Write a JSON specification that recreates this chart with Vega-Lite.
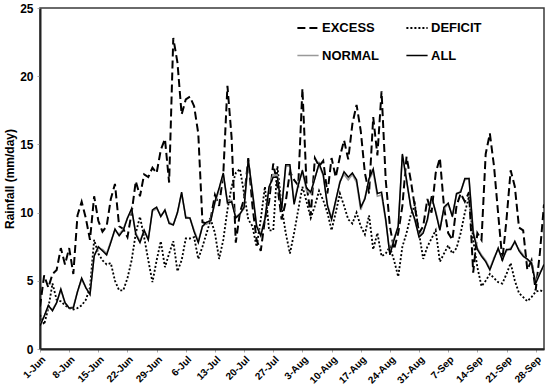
{
  "$schema": "https://vega.github.io/schema/vega-lite/v6.json",
  "width": 504,
  "height": 341,
  "autosize": {"type": "none"},
  "padding": {"left": 40, "top": 8, "right": 6, "bottom": 40},
  "background": "white",
  "config": {
    "font": "Liberation Sans",
    "view": {"stroke": "#3a3a3a", "strokeWidth": 1.5}
  },
  "data": {
    "values": [
      {"date":"2020-06-01","EXCESS":3.1,"DEFICIT":2.5,"NORMAL":1.8,"ALL":1.7},
      {"date":"2020-06-02","EXCESS":5.4,"DEFICIT":1.8,"NORMAL":2.4,"ALL":2.4},
      {"date":"2020-06-03","EXCESS":4.5,"DEFICIT":3.0,"NORMAL":3.1,"ALL":3.2},
      {"date":"2020-06-04","EXCESS":5.5,"DEFICIT":4.8,"NORMAL":2.9,"ALL":2.8},
      {"date":"2020-06-05","EXCESS":5.8,"DEFICIT":3.6,"NORMAL":3.4,"ALL":3.4},
      {"date":"2020-06-06","EXCESS":7.4,"DEFICIT":3.5,"NORMAL":4.3,"ALL":4.4},
      {"date":"2020-06-07","EXCESS":6.2,"DEFICIT":3.2,"NORMAL":3.4,"ALL":3.4},
      {"date":"2020-06-08","EXCESS":7.4,"DEFICIT":3.0,"NORMAL":3.0,"ALL":3.0},
      {"date":"2020-06-09","EXCESS":5.5,"DEFICIT":2.9,"NORMAL":3.1,"ALL":3.0},
      {"date":"2020-06-10","EXCESS":9.8,"DEFICIT":3.0,"NORMAL":4.2,"ALL":4.2},
      {"date":"2020-06-11","EXCESS":10.8,"DEFICIT":3.2,"NORMAL":5.1,"ALL":5.2},
      {"date":"2020-06-12","EXCESS":9.6,"DEFICIT":3.6,"NORMAL":4.5,"ALL":4.5},
      {"date":"2020-06-13","EXCESS":8.0,"DEFICIT":4.5,"NORMAL":4.0,"ALL":4.0},
      {"date":"2020-06-14","EXCESS":11.2,"DEFICIT":8.0,"NORMAL":6.9,"ALL":6.8},
      {"date":"2020-06-15","EXCESS":9.4,"DEFICIT":7.0,"NORMAL":7.4,"ALL":7.5},
      {"date":"2020-06-16","EXCESS":8.6,"DEFICIT":6.5,"NORMAL":7.3,"ALL":7.2},
      {"date":"2020-06-17","EXCESS":9.0,"DEFICIT":6.2,"NORMAL":7.0,"ALL":6.9},
      {"date":"2020-06-18","EXCESS":11.0,"DEFICIT":6.3,"NORMAL":7.9,"ALL":7.8},
      {"date":"2020-06-19","EXCESS":12.1,"DEFICIT":5.0,"NORMAL":8.7,"ALL":8.8},
      {"date":"2020-06-20","EXCESS":9.0,"DEFICIT":4.3,"NORMAL":8.4,"ALL":8.3},
      {"date":"2020-06-21","EXCESS":8.8,"DEFICIT":4.3,"NORMAL":8.8,"ALL":8.7},
      {"date":"2020-06-22","EXCESS":8.2,"DEFICIT":5.2,"NORMAL":9.6,"ALL":9.6},
      {"date":"2020-06-23","EXCESS":10.0,"DEFICIT":6.5,"NORMAL":10.2,"ALL":10.3},
      {"date":"2020-06-24","EXCESS":12.3,"DEFICIT":8.5,"NORMAL":8.5,"ALL":8.4},
      {"date":"2020-06-25","EXCESS":11.2,"DEFICIT":9.7,"NORMAL":7.9,"ALL":7.8},
      {"date":"2020-06-26","EXCESS":12.8,"DEFICIT":8.2,"NORMAL":8.7,"ALL":8.7},
      {"date":"2020-06-27","EXCESS":12.6,"DEFICIT":6.5,"NORMAL":8.1,"ALL":8.0},
      {"date":"2020-06-28","EXCESS":13.3,"DEFICIT":4.9,"NORMAL":10.1,"ALL":10.2},
      {"date":"2020-06-29","EXCESS":12.9,"DEFICIT":6.5,"NORMAL":10.3,"ALL":10.4},
      {"date":"2020-06-30","EXCESS":14.6,"DEFICIT":7.9,"NORMAL":9.8,"ALL":9.7},
      {"date":"2020-07-01","EXCESS":15.4,"DEFICIT":6.0,"NORMAL":10.1,"ALL":10.2},
      {"date":"2020-07-02","EXCESS":12.2,"DEFICIT":7.0,"NORMAL":9.3,"ALL":9.2},
      {"date":"2020-07-03","EXCESS":22.8,"DEFICIT":7.9,"NORMAL":9.1,"ALL":9.1},
      {"date":"2020-07-04","EXCESS":21.0,"DEFICIT":5.7,"NORMAL":10.0,"ALL":10.0},
      {"date":"2020-07-05","EXCESS":17.2,"DEFICIT":6.5,"NORMAL":11.4,"ALL":11.5},
      {"date":"2020-07-06","EXCESS":18.3,"DEFICIT":8.1,"NORMAL":9.7,"ALL":9.6},
      {"date":"2020-07-07","EXCESS":18.5,"DEFICIT":8.1,"NORMAL":9.6,"ALL":9.6},
      {"date":"2020-07-08","EXCESS":17.8,"DEFICIT":8.2,"NORMAL":8.7,"ALL":8.6},
      {"date":"2020-07-09","EXCESS":15.8,"DEFICIT":6.6,"NORMAL":7.9,"ALL":7.8},
      {"date":"2020-07-10","EXCESS":9.3,"DEFICIT":7.5,"NORMAL":9.0,"ALL":9.0},
      {"date":"2020-07-11","EXCESS":9.2,"DEFICIT":8.5,"NORMAL":9.2,"ALL":9.3},
      {"date":"2020-07-12","EXCESS":9.6,"DEFICIT":9.5,"NORMAL":9.5,"ALL":9.4},
      {"date":"2020-07-13","EXCESS":11.3,"DEFICIT":8.5,"NORMAL":10.7,"ALL":10.8},
      {"date":"2020-07-14","EXCESS":10.5,"DEFICIT":6.6,"NORMAL":11.7,"ALL":11.8},
      {"date":"2020-07-15","EXCESS":12.8,"DEFICIT":8.0,"NORMAL":12.8,"ALL":12.9},
      {"date":"2020-07-16","EXCESS":19.3,"DEFICIT":10.2,"NORMAL":10.8,"ALL":10.7},
      {"date":"2020-07-17","EXCESS":15.5,"DEFICIT":11.9,"NORMAL":10.9,"ALL":10.8},
      {"date":"2020-07-18","EXCESS":7.8,"DEFICIT":12.9,"NORMAL":9.7,"ALL":9.6},
      {"date":"2020-07-19","EXCESS":10.0,"DEFICIT":13.2,"NORMAL":9.9,"ALL":9.9},
      {"date":"2020-07-20","EXCESS":11.0,"DEFICIT":11.4,"NORMAL":10.3,"ALL":10.4},
      {"date":"2020-07-21","EXCESS":14.0,"DEFICIT":9.5,"NORMAL":13.8,"ALL":13.9},
      {"date":"2020-07-22","EXCESS":10.5,"DEFICIT":9.0,"NORMAL":11.6,"ALL":11.5},
      {"date":"2020-07-23","EXCESS":8.0,"DEFICIT":7.5,"NORMAL":9.1,"ALL":9.0},
      {"date":"2020-07-24","EXCESS":7.2,"DEFICIT":9.5,"NORMAL":8.4,"ALL":8.3},
      {"date":"2020-07-25","EXCESS":9.5,"DEFICIT":11.9,"NORMAL":9.6,"ALL":9.5},
      {"date":"2020-07-26","EXCESS":10.8,"DEFICIT":8.7,"NORMAL":11.8,"ALL":11.9},
      {"date":"2020-07-27","EXCESS":13.6,"DEFICIT":8.7,"NORMAL":12.8,"ALL":12.6},
      {"date":"2020-07-28","EXCESS":12.0,"DEFICIT":13.4,"NORMAL":12.7,"ALL":12.6},
      {"date":"2020-07-29","EXCESS":9.5,"DEFICIT":10.4,"NORMAL":10.3,"ALL":10.2},
      {"date":"2020-07-30","EXCESS":10.8,"DEFICIT":8.5,"NORMAL":13.4,"ALL":13.5},
      {"date":"2020-07-31","EXCESS":13.0,"DEFICIT":7.0,"NORMAL":13.4,"ALL":13.5},
      {"date":"2020-08-01","EXCESS":12.4,"DEFICIT":8.5,"NORMAL":10.8,"ALL":10.6},
      {"date":"2020-08-02","EXCESS":12.0,"DEFICIT":10.2,"NORMAL":12.1,"ALL":12.0},
      {"date":"2020-08-03","EXCESS":19.1,"DEFICIT":11.9,"NORMAL":13.0,"ALL":13.1},
      {"date":"2020-08-04","EXCESS":12.0,"DEFICIT":10.8,"NORMAL":11.6,"ALL":11.8},
      {"date":"2020-08-05","EXCESS":9.8,"DEFICIT":9.6,"NORMAL":11.4,"ALL":11.5},
      {"date":"2020-08-06","EXCESS":14.0,"DEFICIT":10.5,"NORMAL":12.6,"ALL":12.5},
      {"date":"2020-08-07","EXCESS":13.4,"DEFICIT":11.6,"NORMAL":13.5,"ALL":13.6},
      {"date":"2020-08-08","EXCESS":13.8,"DEFICIT":10.9,"NORMAL":12.7,"ALL":12.8},
      {"date":"2020-08-09","EXCESS":11.4,"DEFICIT":10.0,"NORMAL":10.6,"ALL":10.5},
      {"date":"2020-08-10","EXCESS":14.0,"DEFICIT":8.7,"NORMAL":9.6,"ALL":9.5},
      {"date":"2020-08-11","EXCESS":12.6,"DEFICIT":10.0,"NORMAL":10.8,"ALL":10.9},
      {"date":"2020-08-12","EXCESS":14.1,"DEFICIT":11.4,"NORMAL":12.3,"ALL":12.2},
      {"date":"2020-08-13","EXCESS":15.3,"DEFICIT":10.5,"NORMAL":12.8,"ALL":13.0},
      {"date":"2020-08-14","EXCESS":13.9,"DEFICIT":9.5,"NORMAL":12.4,"ALL":12.6},
      {"date":"2020-08-15","EXCESS":16.5,"DEFICIT":9.2,"NORMAL":12.8,"ALL":12.9},
      {"date":"2020-08-16","EXCESS":17.9,"DEFICIT":10.0,"NORMAL":12.2,"ALL":12.4},
      {"date":"2020-08-17","EXCESS":16.0,"DEFICIT":9.0,"NORMAL":10.2,"ALL":10.4},
      {"date":"2020-08-18","EXCESS":12.9,"DEFICIT":8.4,"NORMAL":11.1,"ALL":11.0},
      {"date":"2020-08-19","EXCESS":11.4,"DEFICIT":9.8,"NORMAL":12.4,"ALL":12.5},
      {"date":"2020-08-20","EXCESS":17.0,"DEFICIT":7.3,"NORMAL":13.0,"ALL":13.2},
      {"date":"2020-08-21","EXCESS":14.2,"DEFICIT":8.5,"NORMAL":11.2,"ALL":11.4},
      {"date":"2020-08-22","EXCESS":18.9,"DEFICIT":6.8,"NORMAL":11.3,"ALL":11.5},
      {"date":"2020-08-23","EXCESS":12.4,"DEFICIT":7.0,"NORMAL":9.4,"ALL":9.5},
      {"date":"2020-08-24","EXCESS":9.0,"DEFICIT":7.5,"NORMAL":7.0,"ALL":6.9},
      {"date":"2020-08-25","EXCESS":7.3,"DEFICIT":6.5,"NORMAL":8.1,"ALL":8.0},
      {"date":"2020-08-26","EXCESS":8.5,"DEFICIT":5.3,"NORMAL":9.0,"ALL":9.0},
      {"date":"2020-08-27","EXCESS":10.5,"DEFICIT":7.5,"NORMAL":14.2,"ALL":14.3},
      {"date":"2020-08-28","EXCESS":14.1,"DEFICIT":8.5,"NORMAL":12.3,"ALL":12.4},
      {"date":"2020-08-29","EXCESS":12.4,"DEFICIT":9.8,"NORMAL":10.5,"ALL":10.4},
      {"date":"2020-08-30","EXCESS":10.4,"DEFICIT":10.6,"NORMAL":9.4,"ALL":9.5},
      {"date":"2020-08-31","EXCESS":8.5,"DEFICIT":8.5,"NORMAL":8.3,"ALL":8.2},
      {"date":"2020-09-01","EXCESS":9.0,"DEFICIT":6.6,"NORMAL":8.6,"ALL":8.5},
      {"date":"2020-09-02","EXCESS":11.0,"DEFICIT":7.5,"NORMAL":9.4,"ALL":9.5},
      {"date":"2020-09-03","EXCESS":10.0,"DEFICIT":8.1,"NORMAL":11.1,"ALL":11.2},
      {"date":"2020-09-04","EXCESS":12.9,"DEFICIT":8.7,"NORMAL":10.1,"ALL":10.0},
      {"date":"2020-09-05","EXCESS":14.0,"DEFICIT":6.4,"NORMAL":8.8,"ALL":8.7},
      {"date":"2020-09-06","EXCESS":10.4,"DEFICIT":7.0,"NORMAL":10.3,"ALL":10.4},
      {"date":"2020-09-07","EXCESS":8.5,"DEFICIT":7.6,"NORMAL":10.6,"ALL":10.7},
      {"date":"2020-09-08","EXCESS":8.0,"DEFICIT":7.0,"NORMAL":9.8,"ALL":9.7},
      {"date":"2020-09-09","EXCESS":10.5,"DEFICIT":7.4,"NORMAL":11.3,"ALL":11.4},
      {"date":"2020-09-10","EXCESS":11.4,"DEFICIT":8.5,"NORMAL":11.6,"ALL":11.5},
      {"date":"2020-09-11","EXCESS":10.8,"DEFICIT":10.0,"NORMAL":12.4,"ALL":12.5},
      {"date":"2020-09-12","EXCESS":11.5,"DEFICIT":11.2,"NORMAL":12.5,"ALL":12.5},
      {"date":"2020-09-13","EXCESS":5.6,"DEFICIT":8.0,"NORMAL":8.7,"ALL":8.5},
      {"date":"2020-09-14","EXCESS":8.5,"DEFICIT":6.0,"NORMAL":7.4,"ALL":7.3},
      {"date":"2020-09-15","EXCESS":8.0,"DEFICIT":4.6,"NORMAL":6.9,"ALL":6.8},
      {"date":"2020-09-16","EXCESS":14.3,"DEFICIT":5.0,"NORMAL":6.5,"ALL":6.4},
      {"date":"2020-09-17","EXCESS":15.8,"DEFICIT":5.5,"NORMAL":5.9,"ALL":5.8},
      {"date":"2020-09-18","EXCESS":13.4,"DEFICIT":5.2,"NORMAL":6.7,"ALL":6.6},
      {"date":"2020-09-19","EXCESS":9.9,"DEFICIT":4.9,"NORMAL":7.3,"ALL":7.4},
      {"date":"2020-09-20","EXCESS":6.5,"DEFICIT":4.8,"NORMAL":6.6,"ALL":6.5},
      {"date":"2020-09-21","EXCESS":9.5,"DEFICIT":5.5,"NORMAL":7.2,"ALL":7.3},
      {"date":"2020-09-22","EXCESS":13.1,"DEFICIT":6.3,"NORMAL":7.4,"ALL":7.3},
      {"date":"2020-09-23","EXCESS":11.9,"DEFICIT":5.0,"NORMAL":7.8,"ALL":7.9},
      {"date":"2020-09-24","EXCESS":8.9,"DEFICIT":4.1,"NORMAL":7.3,"ALL":7.2},
      {"date":"2020-09-25","EXCESS":8.7,"DEFICIT":3.8,"NORMAL":6.9,"ALL":6.8},
      {"date":"2020-09-26","EXCESS":5.8,"DEFICIT":3.5,"NORMAL":6.5,"ALL":6.6},
      {"date":"2020-09-27","EXCESS":6.5,"DEFICIT":3.8,"NORMAL":6.4,"ALL":6.3},
      {"date":"2020-09-28","EXCESS":4.3,"DEFICIT":4.2,"NORMAL":4.9,"ALL":4.8},
      {"date":"2020-09-29","EXCESS":7.0,"DEFICIT":4.3,"NORMAL":5.6,"ALL":5.5},
      {"date":"2020-09-30","EXCESS":10.6,"DEFICIT":4.2,"NORMAL":6.1,"ALL":6.2}
    ]
  },
  "transform": [
    {"fold": ["EXCESS", "DEFICIT", "NORMAL", "ALL"], "as": ["series", "rainfall"]}
  ],
  "mark": {"type": "line", "clip": true},
  "encoding": {
    "x": {
      "field": "date",
      "type": "temporal",
      "scale": {
        "type": "utc",
        "domain": [
          {"year": 2020, "month": "Jun", "date": 1, "utc": true},
          {"year": 2020, "month": "Sep", "date": 30, "utc": true}
        ]
      },
      "axis": {
        "title": null,
        "format": "%-d-%b",
        "values": [
          {"year": 2020, "month": "Jun", "date": 1, "utc": true},
          {"year": 2020, "month": "Jun", "date": 8, "utc": true},
          {"year": 2020, "month": "Jun", "date": 15, "utc": true},
          {"year": 2020, "month": "Jun", "date": 22, "utc": true},
          {"year": 2020, "month": "Jun", "date": 29, "utc": true},
          {"year": 2020, "month": "Jul", "date": 6, "utc": true},
          {"year": 2020, "month": "Jul", "date": 13, "utc": true},
          {"year": 2020, "month": "Jul", "date": 20, "utc": true},
          {"year": 2020, "month": "Jul", "date": 27, "utc": true},
          {"year": 2020, "month": "Aug", "date": 3, "utc": true},
          {"year": 2020, "month": "Aug", "date": 10, "utc": true},
          {"year": 2020, "month": "Aug", "date": 17, "utc": true},
          {"year": 2020, "month": "Aug", "date": 24, "utc": true},
          {"year": 2020, "month": "Aug", "date": 31, "utc": true},
          {"year": 2020, "month": "Sep", "date": 7, "utc": true},
          {"year": 2020, "month": "Sep", "date": 14, "utc": true},
          {"year": 2020, "month": "Sep", "date": 21, "utc": true},
          {"year": 2020, "month": "Sep", "date": 28, "utc": true}
        ],
        "labelAngle": -45,
        "labelAlign": "right",
        "labelBaseline": "top",
        "labelFont": "Liberation Sans",
        "labelFontWeight": "bold",
        "labelFontSize": 10,
        "labelColor": "#000",
        "labelPadding": 2,
        "labelOverlap": false,
        "labelFlush": false,
        "labelBound": false,
        "domainColor": "#222",
        "domainWidth": 2,
        "tickColor": "#aaa",
        "tickSize": 3,
        "grid": false
      }
    },
    "y": {
      "field": "rainfall",
      "type": "quantitative",
      "scale": {"domain": [0, 25], "nice": false, "zero": true},
      "axis": {
        "title": "Rainfall (mm/day)",
        "titleFont": "Liberation Sans",
        "titleFontWeight": "bold",
        "titleFontSize": 12,
        "titleColor": "#000",
        "titlePadding": 3,
        "values": [0, 5, 10, 15, 20, 25],
        "labelFont": "Liberation Sans",
        "labelFontWeight": "bold",
        "labelFontSize": 12,
        "labelColor": "#000",
        "labelPadding": 4,
        "domainColor": "#222",
        "domainWidth": 2,
        "tickColor": "#aaa",
        "tickSize": 3,
        "grid": false
      }
    },
    "color": {
      "field": "series",
      "type": "nominal",
      "sort": ["EXCESS", "DEFICIT", "NORMAL", "ALL"],
      "scale": {
        "domain": ["EXCESS", "DEFICIT", "NORMAL", "ALL"],
        "range": ["#000000", "#000000", "#999999", "#000000"]
      },
      "legend": {
        "title": null,
        "orient": "none",
        "legendX": 256,
        "legendY": 8,
        "columns": 2,
        "columnPadding": 22,
        "rowPadding": 9,
        "symbolType": "stroke",
        "symbolSize": 450,
        "labelFont": "Liberation Sans",
        "labelFontWeight": "bold",
        "labelFontSize": 13,
        "labelColor": "#000",
        "labelOffset": 2,
        "direction": "horizontal"
      }
    },
    "strokeDash": {
      "field": "series",
      "type": "nominal",
      "sort": ["EXCESS", "DEFICIT", "NORMAL", "ALL"],
      "scale": {
        "domain": ["EXCESS", "DEFICIT", "NORMAL", "ALL"],
        "range": [[8, 4], [2, 2], [1, 0], [1, 0]]
      },
      "legend": null
    },
    "strokeWidth": {
      "field": "series",
      "type": "nominal",
      "sort": ["EXCESS", "DEFICIT", "NORMAL", "ALL"],
      "scale": {
        "domain": ["EXCESS", "DEFICIT", "NORMAL", "ALL"],
        "range": [2, 1.5, 3, 2.2]
      },
      "legend": null
    }
  }
}
